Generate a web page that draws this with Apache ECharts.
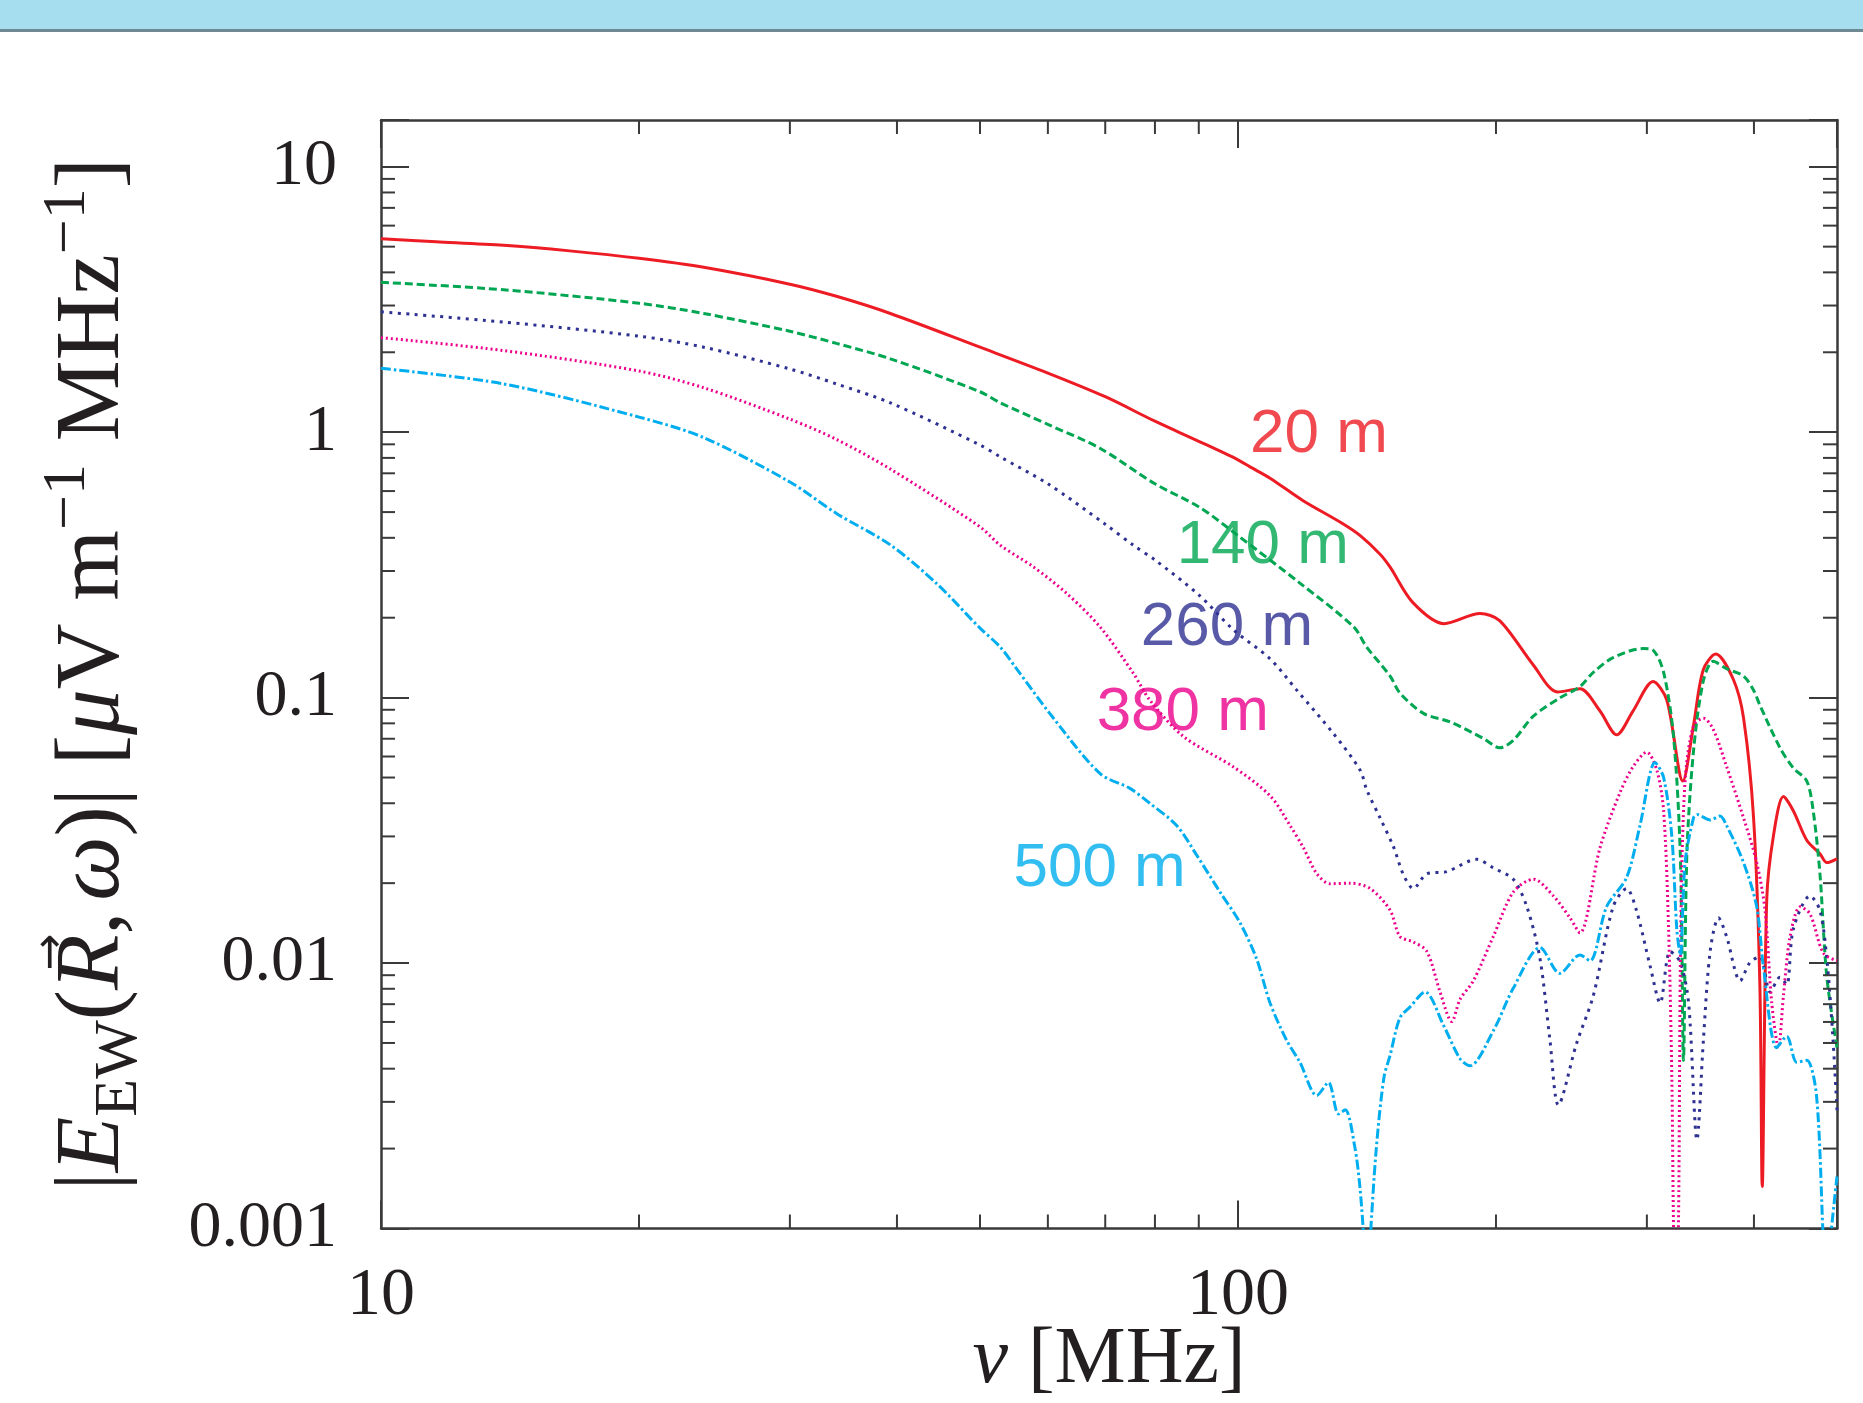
<!DOCTYPE html>
<html>
<head>
<meta charset="utf-8">
<script src="https://cdn.jsdelivr.net/npm/echarts@6/dist/echarts.min.js"></script>
<style>
html,body{margin:0;padding:0;background:#ffffff;}
#chart{width:1863px;height:1403px;}
</style>
</head>
<body>
<div id="chart"></div>
<script>
// ---------- data (frequency in MHz, |E| in µV/m/MHz) ----------
const curveNames = ['20 m', '140 m', '260 m', '380 m', '500 m'];

const curve20m = [
  [10,5.35],[11.6,5.22],[13.9,5.06],[16.6,4.82],[20,4.52],[23.8,4.18],[30,3.61],[34,3.25],[39.3,2.80],
  [50,2.09],[60,1.67],[70,1.36],[80,1.10],[90,0.924],[100,0.787],[103.3,0.74],[109,0.671],[119,0.553],
  [132.4,0.453],[139,0.407],[146.5,0.347],[150.5,0.31],[160,0.228],[174,0.190],
  [191.6,0.2075],[202,0.195],[221,0.133],[236,0.105],[250.6,0.108],[264.5,0.089],[276.6,0.0724],
  [289,0.089],[305,0.115],[316.5,0.098],[330.4,0.0485],[340,0.0784],[349,0.127],[361,0.146],
  [378.5,0.117],[389,0.0837],[399.6,0.0352],[406.4,0.0083],[409,0.00144],[414,0.0174],[421.4,0.030],
  [433,0.0424],[444.6,0.0375],[461,0.029],[477.6,0.0258],[486.5,0.0239],[500,0.0247]
];

const curve140m = [
  [10,3.67],[13.9,3.44],[20,3.06],[23.8,2.80],[30,2.40],[34,2.16],[39.3,1.89],[50,1.42],[52.8,1.29],
  [60,1.07],[69,0.87],[80,0.639],[90.3,0.52],[100,0.4075],[118.1,0.27],[136.4,0.185],[141.3,0.155],
  [150.5,0.1205],[154.5,0.104],[164.6,0.0872],[176.8,0.081],[193.3,0.0702],[202,0.0647],[209.5,0.069],
  [221,0.085],[237.5,0.0998],[250.6,0.110],[259.8,0.1245],[274,0.1415],[297,0.153],[305,0.151],
  [313.8,0.1245],[322.3,0.0713],[328.2,0.0255],[331,0.0043],[334,0.0255],[340,0.0627],[349,0.115],
  [358.5,0.137],[371.6,0.1285],[389,0.1205],[399.6,0.1067],[406.4,0.0937],[429,0.0647],[444.6,0.0543],
  [461,0.0485],[469,0.0375],[477.6,0.0217],[486.5,0.00886],[500,0.0048]
];

const curve260m = [
  [10,2.84],[13.9,2.60],[20,2.30],[23.8,2.09],[30,1.73],[34,1.52],[39.3,1.29],[50,0.895],[52.8,0.807],
  [60,0.639],[70,0.45],[75.5,0.375],[80,0.33],[90,0.244],[98.8,0.18],[109,0.14],[117.1,0.1067],
  [129.2,0.0733],[138.8,0.0534],[141.3,0.045],[146.5,0.0352],[151.8,0.0275],[156,0.0215],[160.2,0.0191],
  [166.1,0.0217],[175.2,0.0221],[190,0.0246],[198.6,0.0228],[209.5,0.0207],[217.3,0.0163],[225.1,0.0104],
  [231.2,0.00513],[236.5,0.00292],[248.3,0.00497],[259.8,0.00754],[274,0.0163],[284.1,0.0191],
  [291.7,0.0158],[302.6,0.00975],[310.9,0.00707],[319.3,0.01107],[328.2,0.01007],[335.6,0.00707],
  [343.2,0.00216],[349.2,0.00513],[355.6,0.01107],[363.7,0.0148],[371.6,0.0126],[385.5,0.00857],
  [395.8,0.01007],[406.4,0.01057],[417.8,0.00778],[429,0.00885],[436.9,0.0083],[444.6,0.01343],
  [465.1,0.0179],[477.6,0.0158],[486.5,0.0104],[494.7,0.00513],[500,0.00279]
];

const curve380m = [
  [10,2.27],[13.9,2.03],[20,1.70],[23.8,1.47],[30,1.12],[34,0.939],[39.3,0.726],[50,0.44],[52.8,0.375],
  [57.7,0.311],[63.1,0.247],[69,0.185],[75.5,0.1234],[78.9,0.0979],[86.4,0.0713],[98.8,0.0548],
  [109,0.0427],[115,0.033],[119.2,0.0272],[123.6,0.0217],[128,0.0199],[135,0.020],[142.6,0.0191],
  [150.5,0.0158],[154.5,0.0126],[160.2,0.012],[166.1,0.01107],[172.1,0.00778],[177.6,0.00602],
  [181.6,0.0073],[188.2,0.00857],[198.6,0.0126],[209.5,0.0185],[221.2,0.0207],[233.4,0.0179],
  [244,0.0148],[250.6,0.013],[264.5,0.0272],[279.2,0.044],[289.3,0.0551],[299.9,0.0623],[308.1,0.0534],
  [313.8,0.0375],[318,0.01343],[320.8,0.00372],[322.3,0.001],[324,0.0005],[326.5,0.001],[328.6,0.0134],
  [332.4,0.0485],[340,0.0784],[349.2,0.0836],[358.5,0.076],[371.6,0.0551],[389,0.0352],[403,0.0239],
  [412.1,0.0158],[419.6,0.00707],[427.2,0.0048],[433,0.00754],[440.8,0.0126],[452.9,0.0163],
  [465.1,0.0153],[482,0.0109],[500,0.0102]
];

const curve500m = [
  [10,1.74],[13.9,1.52],[20,1.14],[23.8,0.954],[30,0.649],[34,0.494],[39.3,0.376],[44.5,0.269],
  [50,0.1827],[52.8,0.155],[55.2,0.128],[60.3,0.0872],[69,0.0518],[74.8,0.0455],[78.9,0.040],
  [84.8,0.033],[89.5,0.0255],[95.3,0.0185],[100.4,0.0143],[105.1,0.0104],[109,0.00707],[113.9,0.00513],
  [118.1,0.00423],[123.6,0.00317],[127.5,0.00355],[131,0.0027],[133.4,0.0028],[136.9,0.00202],
  [138.8,0.00142],[140.3,0.0009],[141.5,0.0006],[142.6,0.0009],[145,0.002],[148,0.0037],[150.5,0.0045],
  [154.5,0.00622],[158.8,0.00684],[165.3,0.00778],[173.7,0.00583],[181.6,0.00436],[186.5,0.0041],
  [198.6,0.00556],[209.5,0.00803],[225.1,0.01144],[237.5,0.00914],[250.6,0.01073],[257.5,0.0102],
  [269.2,0.0163],[284.1,0.021],[294.5,0.033],[306.7,0.0569],[313.8,0.05],[320.8,0.030],[325.1,0.01343],
  [328.2,0.0107],[332.4,0.0239],[340,0.0352],[343.2,0.0363],[355.6,0.0346],[365.1,0.0358],[371.6,0.033],
  [389,0.0239],[403,0.0163],[410.2,0.00975],[425.1,0.0048],[436.9,0.0053],[448.7,0.00423],[461,0.0043],
  [473.2,0.00317],[482,0.0009],[486,0.0006],[491,0.0009],[500,0.00157]
];

// annotation anchors (left edge, vertical middle of each curve label), in data units
const curveLabelAnchors = [[103.3,0.974],[84.8,0.372],[77.0,0.183],[68.4,0.0879],[54.7,0.0226]];

// tick values / labels
const xTickValues = [10, 100];
const xTickLabels = ['10', '100'];
const yTickValues = [0.001, 0.01, 0.1, 1, 10];
const yTickLabels = ['0.001', '0.01', '0.1', '1', '10'];
const xMinorTicks = [20,30,40,50,60,70,80,90,200,300,400];
const yMinorTicks = [
  0.002,0.003,0.004,0.005,0.006,0.007,0.008,0.009,
  0.02,0.03,0.04,0.05,0.06,0.07,0.08,0.09,
  0.2,0.3,0.4,0.5,0.6,0.7,0.8,0.9,
  2,3,4,5,6,7,8,9
];

// y-axis title pieces: [style, text]
const yTitleTokens = [
  ['n','|'],['i','E'],['s','EW'],['n','('],['i','R'],['n',','],['t',' '],['i','ω'],['n',')|'],
  ['n',' ['],['i','μ'],['n','V m'],['p','−1'],['n',' MHz'],['p','−1'],['n',']']
];

// ---------- styling ----------
const curveData = [curve20m, curve140m, curve260m, curve380m, curve500m];
const curveColors = ['#ed1c24', '#00a651', '#2e3192', '#ec008c', '#00aeef'];
const curveDash = ['solid', [8, 4], [3, 5.5], [2, 3], [10, 3, 2.5, 3]];
const frameColor = '#3a3a3a';
const textColor = '#231f20';
const serif = '"Liberation Serif", "Times New Roman", serif';
const sans = '"Liberation Sans", Arial, sans-serif';
const majorLen = 28, minorLen = 14;

const yRich = {
  n: { fontFamily: serif, fontSize: 91, lineHeight: 114, color: textColor },
  i: { fontFamily: serif, fontStyle: 'italic', fontSize: 91, lineHeight: 114, color: textColor },
  t: { fontFamily: serif, fontSize: 44, lineHeight: 114, color: textColor },
  s: { fontFamily: serif, fontSize: 62, lineHeight: 72, verticalAlign: 'bottom', color: textColor },
  p: { fontFamily: serif, fontSize: 62, lineHeight: 82, verticalAlign: 'top', color: textColor }
};
const yTitle = yTitleTokens.map(t => '{' + t[0] + '|' + t[1] + '}').join('');

// measure where the R sits along the rotated title, to put the vector arrow over it
const mctx = document.createElement('canvas').getContext('2d');
function tokenWidth(t) {
  const st = yRich[t[0]];
  mctx.font = (st.fontStyle || 'normal') + ' normal ' + st.fontSize + 'px ' + st.fontFamily;
  return mctx.measureText(t[1]).width;
}
let totalW = 0, rMid = 0;
yTitleTokens.forEach((t, k) => {
  const w = tokenWidth(t);
  if (k === 4) rMid = totalW + w / 2;
  totalW += w;
});

function decadeFormatter(values, labels) {
  return function (v) {
    for (let i = 0; i < values.length; i++) {
      if (Math.abs(Math.log10(v) - Math.log10(values[i])) < 1e-6) return labels[i];
    }
    return '';
  };
}

function baseAxis(extra) {
  return Object.assign({
    type: 'log',
    logBase: 10,
    axisLine: { show: true, onZero: false, lineStyle: { color: frameColor, width: 2.5 } },
    axisTick: { show: true, inside: true, length: majorLen, lineStyle: { color: frameColor, width: 2 } },
    minorTick: { show: false },
    splitLine: { show: false },
    minorSplitLine: { show: false }
  }, extra);
}

const xAxes = [
  baseAxis({
    min: 10, max: 500, position: 'bottom', gridIndex: 0,
    axisLabel: { show: true, margin: 34, formatter: decadeFormatter(xTickValues, xTickLabels),
      fontFamily: serif, fontSize: 68, color: textColor },
    name: '{i|ν} [MHz]',
    nameLocation: 'middle',
    nameGap: 92,
    nameMoveOverlap: false,
    nameTextStyle: {
      fontFamily: serif, fontSize: 80, color: textColor,
      rich: { i: { fontFamily: serif, fontStyle: 'italic', fontSize: 80, color: textColor } }
    }
  }),
  baseAxis({ min: 10, max: 500, position: 'top', gridIndex: 0, axisLabel: { show: false } })
];

const yAxes = [
  baseAxis({
    min: 0.001, max: 15, position: 'left', gridIndex: 0,
    axisLabel: { show: true, margin: 44, formatter: decadeFormatter(yTickValues, yTickLabels),
      fontFamily: serif, fontSize: 66, color: textColor },
    name: yTitle,
    nameLocation: 'middle',
    nameRotate: 90,
    nameGap: 230,
    nameMoveOverlap: false,
    nameTextStyle: { fontFamily: serif, fontSize: 91, color: textColor, rich: yRich }
  }),
  baseAxis({ min: 0.001, max: 15, position: 'right', gridIndex: 0, axisLabel: { show: false } })
];

const lineSeries = curveData.map((d, k) => ({
  type: 'line',
  name: curveNames[k],
  xAxisIndex: 0, yAxisIndex: 0,
  data: d,
  showSymbol: false,
  smooth: 0.3,
  clip: true,
  z: 3,
  lineStyle: { color: curveColors[k], width: 3, type: curveDash[k], cap: 'butt' }
}));

const labelSeries = {
  type: 'scatter',
  xAxisIndex: 0, yAxisIndex: 0,
  symbolSize: 0,
  silent: true,
  z: 4,
  data: curveLabelAnchors.map((p, k) => ({
    value: p, name: curveNames[k],
    label: { color: curveColors[k] }
  })),
  label: {
    show: true, position: 'right', distance: 0, formatter: '{b}',
    fontFamily: sans, fontSize: 62
  }
};

const minorX = {
  type: 'custom', xAxisIndex: 0, yAxisIndex: 0, silent: true, clip: false, z: 5,
  data: xMinorTicks.map(v => [v, 1]),
  renderItem: function (params, api) {
    const p = api.coord([api.value(0), api.value(1)]);
    const cs = params.coordSys;
    const st = { stroke: frameColor, lineWidth: 2 };
    return { type: 'group', children: [
      { type: 'line', shape: { x1: p[0], y1: cs.y + cs.height, x2: p[0], y2: cs.y + cs.height - minorLen }, style: st },
      { type: 'line', shape: { x1: p[0], y1: cs.y, x2: p[0], y2: cs.y + minorLen }, style: st }
    ] };
  }
};

const minorY = {
  type: 'custom', xAxisIndex: 0, yAxisIndex: 0, silent: true, clip: false, z: 5,
  data: yMinorTicks.map(v => [10, v]),
  renderItem: function (params, api) {
    const p = api.coord([api.value(0), api.value(1)]);
    const cs = params.coordSys;
    const st = { stroke: frameColor, lineWidth: 2 };
    return { type: 'group', children: [
      { type: 'line', shape: { x1: cs.x, y1: p[1], x2: cs.x + minorLen, y2: p[1] }, style: st },
      { type: 'line', shape: { x1: cs.x + cs.width, y1: p[1], x2: cs.x + cs.width - minorLen, y2: p[1] }, style: st }
    ] };
  }
};

const gridTop = 120, gridBottom = 174.5, H = 1403;
const axisMidY = (gridTop + (H - gridBottom)) / 2;
const arrowY = axisMidY + totalW / 2 - rMid - 6;

const chart = echarts.init(document.getElementById('chart'), null, { renderer: 'canvas', width: 1863, height: 1403 });
chart.setOption({
  animation: false,
  backgroundColor: '#ffffff',
  grid: { left: 381, top: gridTop, right: 26, bottom: gridBottom, containLabel: false, outerBoundsMode: 'none' },
  graphic: [
    { type: 'rect', left: 0, top: 0, shape: { width: 1863, height: 29 }, style: { fill: '#a6ddef' }, z: 0 },
    { type: 'rect', left: 0, top: 29, shape: { width: 1863, height: 3 }, style: { fill: '#6f8993' }, z: 0 },
    { type: 'text', x: 50, y: arrowY, z: 10,
      style: { text: '↑', font: '44px "DejaVu Sans", sans-serif', fill: textColor, align: 'center', verticalAlign: 'middle' } }
  ],
  xAxis: xAxes,
  yAxis: yAxes,
  series: lineSeries.concat([labelSeries, minorX, minorY])
});
</script>
</body>
</html>
